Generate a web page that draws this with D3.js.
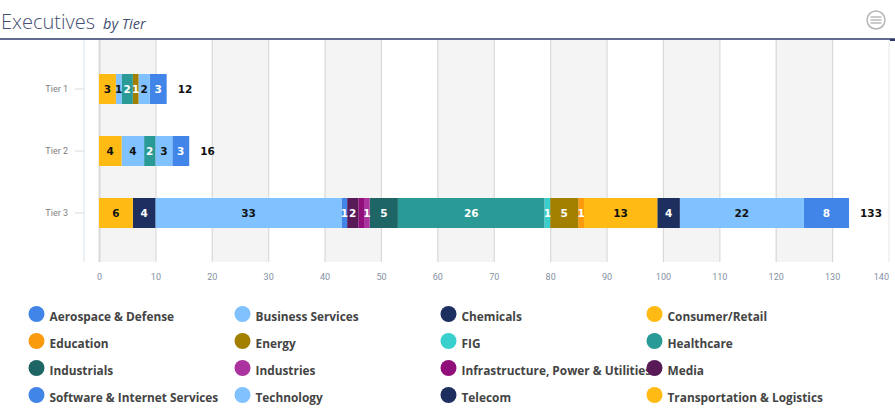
<!DOCTYPE html>
<html>
<head>
<meta charset="utf-8">
<script src="https://d3js.org/d3.v7.min.js"></script>
<style>
  body { margin: 0; background: #fff; }
  svg { display: block; }
  .title { font-family: "Open Sans"; fill: #44506f; }
  .ticks text { font-family: Roboto; font-size: 9px; fill: #8490a3; }
  .ticks.tiers text { fill: #808080; }
  .legend text { font-family: "Open Sans"; font-weight: 700; font-size: 11.85px; fill: #444; }
  .val { font-family: "DejaVu Sans"; font-weight: 700; font-size: 10.5px; text-anchor: middle; }
</style>
</head>
<body>
<svg id="chart" width="895" height="412"></svg>
<script>
var tiers = ["Tier 1", "Tier 2", "Tier 3"];
var sectors = ["Aerospace & Defense", "Business Services", "Chemicals", "Consumer/Retail",
  "Education", "Energy", "FIG", "Healthcare",
  "Industrials", "Industries", "Infrastructure, Power & Utilities", "Media",
  "Software & Internet Services", "Technology", "Telecom", "Transportation & Logistics"];
var colors = ["#4285e8", "#80c1ff", "#1d2f5f", "#ffbb14",
  "#f99b0c", "#a37f00", "#38cfcd", "#2a9a96",
  "#1e6666", "#aa339f", "#910f7a", "#591a58",
  "#4285e8", "#80c1ff", "#1d2f5f", "#ffbb14"];
// values per sector: tier 1, tier 2, tier 3
var aerospace = [3, 3, 8];
var business = [2, 3, 22];
var chemicals = [0, 0, 4];
var consumer = [0, 0, 13];
var education = [0, 0, 1];
var energy = [1, 0, 5];
var fig = [0, 0, 1];
var healthcare = [2, 2, 26];
var industrials = [0, 0, 5];
var industries = [0, 0, 1];
var infrastructure = [0, 0, 1];
var media = [0, 0, 2];
var software = [0, 0, 1];
var technology = [1, 4, 33];
var telecom = [0, 0, 4];
var transportation = [3, 4, 6];
var seriesValues = [aerospace, business, chemicals, consumer, education, energy, fig, healthcare,
  industrials, industries, infrastructure, media, software, technology, telecom, transportation];
var totals = [12, 16, 133];
var darkText = ["Business Services", "Consumer/Retail", "Technology", "Transportation & Logistics"];
var xTicks = d3.range(0, 141, 10);

var svg = d3.select("#chart");
var plotTop = 40, plotBottom = 262;

var x = d3.scaleLinear().domain([0, 140]).range([99, 888.5]);
var y = d3.scaleBand().domain(tiers).range([58, 244]).paddingInner(32 / 62).paddingOuter(16 / 62);

// table for d3.stack, one row per tier
var rows = tiers.map(function(t, i) {
  var row = { tier: t };
  sectors.forEach(function(s, j) { row[s] = seriesValues[j][i]; });
  return row;
});
var stacked = d3.stack().keys(sectors).order(d3.stackOrderReverse)(rows);

// title and header rule
var title = svg.append("text").attr("class", "title").attr("x", 1).attr("y", 29);
title.append("tspan").attr("font-size", 20).attr("font-weight", 300).text("Executives");
title.append("tspan").attr("font-size", 14.5).attr("font-style", "italic").attr("dx", 8).text("by Tier");
svg.append("line").attr("x1", 0).attr("x2", 895).attr("y1", 39).attr("y2", 39)
  .attr("stroke", "#2c3b68").attr("stroke-width", 1.5);
svg.append("line").attr("x1", 890).attr("x2", 895).attr("y1", 40).attr("y2", 40)
  .attr("stroke", "#2c3b68").attr("stroke-width", 2);

// menu icon
var menu = svg.append("g").attr("transform", "translate(876,20)");
menu.append("circle").attr("r", 9).attr("fill", "#fff").attr("stroke", "#b5b5b5").attr("stroke-width", 1.5);
[-3, 0, 3].forEach(function(d) {
  menu.append("line").attr("x1", -5.5).attr("x2", 5.5).attr("y1", d).attr("y2", d)
    .attr("stroke", "#b5b5b5").attr("stroke-width", 1.4);
});

// alternating plot bands
svg.append("g").selectAll("rect")
  .data(xTicks.slice(0, -1).filter(function(d) { return d % 20 == 0; }))
  .join("rect")
  .attr("x", function(d) { return x(d); })
  .attr("width", function(d) { return x(d + 10) - x(d); })
  .attr("y", plotTop).attr("height", plotBottom - plotTop)
  .attr("fill", "#f4f4f4");

// x axis with the grid lines
var xAxis = svg.append("g").attr("class", "ticks")
  .attr("transform", "translate(0," + plotBottom + ")")
  .call(d3.axisBottom(x).tickValues(xTicks).tickSize(plotTop - plotBottom).tickPadding(0));
xAxis.select(".domain").remove();
xAxis.selectAll(".tick line").attr("stroke", "#d9d9d9").attr("stroke-width", function(d) { return d == 0 ? 2 : 1.2; });
xAxis.selectAll(".tick text").attr("y", 18).attr("dy", 0).attr("text-anchor", "middle");
xAxis.selectAll(".tick").filter(function(d) { return d == 140; }).select("text").attr("text-anchor", "end");
xAxis.selectAll(".tick").filter(function(d) { return d == 140; }).select("line").attr("stroke", "#ececec");

// y axis
var yAxis = svg.append("g").attr("class", "ticks tiers")
  .attr("transform", "translate(84,0)")
  .call(d3.axisLeft(y).tickSize(9).tickPadding(7));
yAxis.select(".domain").attr("stroke", "#e6ecf3").attr("stroke-width", 1.5)
  .attr("d", "M0," + plotTop + "V" + plotBottom);
yAxis.selectAll(".tick line").attr("stroke", "#d5dee8");

// stacked bars
var layers = svg.append("g").selectAll("g").data(stacked).join("g")
  .attr("fill", function(d, i) { return colors[i]; });
layers.selectAll("rect")
  .data(function(d) { return d.filter(function(p) { return p[1] > p[0]; }); })
  .join("rect")
  .attr("x", function(p) { return x(p[0]); })
  .attr("width", function(p) { return x(p[1]) - x(p[0]); })
  .attr("y", function(p) { return y(p.data.tier); })
  .attr("height", y.bandwidth());

// value labels, the 1 for infrastructure was dropped in the original
stacked.forEach(function(s) {
  if (s.key == "Infrastructure, Power & Utilities") return;
  svg.append("g").selectAll("text")
    .data(s.filter(function(p) { return p[1] > p[0]; }))
    .join("text")
    .attr("class", "val")
    .attr("x", function(p) { return (x(p[0]) + x(p[1])) / 2; })
    .attr("y", function(p) { return y(p.data.tier) + y.bandwidth() / 2 + 4; })
    .attr("fill", darkText.indexOf(s.key) >= 0 ? "#111" : "#fff")
    .text(function(p) { return p[1] - p[0]; });
});

// totals after the bars
svg.append("g").selectAll("text").data(totals).join("text")
  .attr("class", "val")
  .style("text-anchor", "start")
  .attr("x", function(d) { return x(d) + 11; })
  .attr("y", function(d, i) { return y(tiers[i]) + y.bandwidth() / 2 + 4; })
  .attr("fill", "#111")
  .text(function(d) { return d; });

// legend, 4 columns
var legend = svg.append("g").attr("class", "legend").selectAll("g").data(sectors).join("g")
  .attr("transform", function(d, i) {
    return "translate(" + (36.5 + (i % 4) * 206) + "," + (314 + Math.floor(i / 4) * 27) + ")";
  });
legend.append("circle").attr("r", 8).attr("fill", function(d, i) { return colors[i]; });
legend.append("text").attr("x", 13).attr("y", 7).text(function(d) { return d; });
</script>
</body>
</html>
